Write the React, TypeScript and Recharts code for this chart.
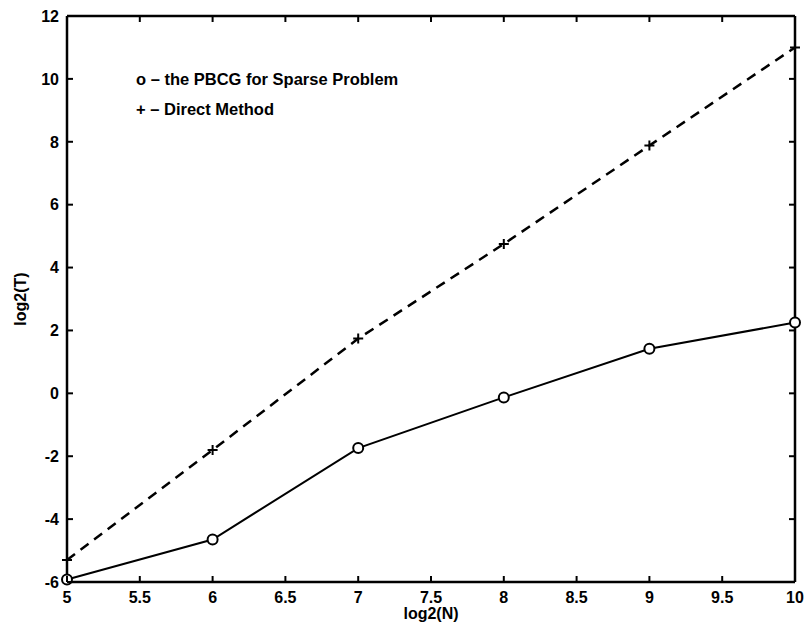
import React from 'react';
import { LineChart, Line, XAxis, YAxis, Legend } from 'recharts';

const log2N = [5, 6, 7, 8, 9, 10];
const pbcg = [-5.92, -4.65, -1.74, -0.13, 1.42, 2.25];
const direct = [-5.3, -1.8, 1.74, 4.75, 7.88, 11.0];
const xTicks = [5, 5.5, 6, 6.5, 7, 7.5, 8, 8.5, 9, 9.5, 10];
const yTicks = [-6, -4, -2, 0, 2, 4, 6, 8, 10, 12];
const legendLabels = ['o \u2013 the PBCG for Sparse Problem', '+ \u2013 Direct Method'];
const xLabel = 'log2(N)';
const yLabel = 'log2(T)';

const rows = log2N.map((n, i) => ({ n, pbcg: pbcg[i], direct: direct[i] }));

const FONT = 'Liberation Sans, Arial, Helvetica, sans-serif';
const INK = '#000';
const axisLine = { stroke: INK, strokeWidth: 2.5 };
const TICK = 6;

const LeftTick = (p: any) => (
  <g>
    <line x1={p.x} y1={p.y} x2={p.x + TICK} y2={p.y} stroke={INK} strokeWidth={2} />
    <text x={p.x - 8} y={p.y} dy="0.36em" textAnchor="end" fontFamily={FONT} fontSize={16} fontWeight="bold" fill={INK}>
      {p.payload.value}
    </text>
  </g>
);
const BottomTick = (p: any) => (
  <g>
    <line x1={p.x} y1={p.y} x2={p.x} y2={p.y - TICK} stroke={INK} strokeWidth={2} />
    <text x={p.x} y={p.y + 21} textAnchor="middle" fontFamily={FONT} fontSize={16} fontWeight="bold" fill={INK}>
      {p.payload.value}
    </text>
  </g>
);
const RightTick = (p: any) => (
  <line x1={p.x} y1={p.y} x2={p.x - TICK} y2={p.y} stroke={INK} strokeWidth={2} />
);
const TopTick = (p: any) => (
  <line x1={p.x} y1={p.y} x2={p.x} y2={p.y + TICK} stroke={INK} strokeWidth={2} />
);

const CircleDot = (p: any) => {
  if (p.cx == null || p.cy == null) return <g key={p.index} />;
  return <circle key={p.index} cx={p.cx} cy={p.cy} r={5} fill="#fff" stroke={INK} strokeWidth={2} />;
};
const PlusDot = (p: any) => {
  if (p.cx == null || p.cy == null) return <g key={p.index} />;
  const s = 5;
  return (
    <path
      key={p.index}
      d={`M${p.cx - s},${p.cy}H${p.cx + s}M${p.cx},${p.cy - s}V${p.cy + s}`}
      stroke={INK}
      strokeWidth={2}
      fill="none"
    />
  );
};

const LegendContent = () => (
  <div style={{ fontFamily: FONT, fontSize: 16.5, fontWeight: 'bold', color: INK, lineHeight: '30px', whiteSpace: 'nowrap' }}>
    {legendLabels.map((t) => (
      <div key={t}>{t}</div>
    ))}
  </div>
);

export default function App() {
  return (
    <div style={{ position: 'absolute', left: 0, top: 0, width: 809, height: 629, background: '#fff' }}>
      <LineChart
        width={809}
        height={629}
        data={rows}
        margin={{ top: -4, right: -6, bottom: 17, left: 17 }}
      >
        <XAxis
          dataKey="n"
          type="number"
          domain={[5, 10]}
          ticks={xTicks}
          interval={0}
          height={30}
          axisLine={axisLine}
          tickLine={false}
          tickSize={0}
          tickMargin={0}
          tick={BottomTick}
          label={(props: any) => {
            const vb = props.viewBox || {};
            return (
              <text
                x={vb.x + vb.width / 2}
                y={vb.y + 37}
                textAnchor="middle"
                fontFamily={FONT}
                fontSize={16}
                fontWeight="bold"
                fill={INK}
              >
                {xLabel}
              </text>
            );
          }}
        />
        <XAxis
          xAxisId="t"
          dataKey="n"
          orientation="top"
          type="number"
          domain={[5, 10]}
          ticks={xTicks}
          interval={0}
          height={20}
          axisLine={axisLine}
          tickLine={false}
          tickSize={0}
          tickMargin={0}
          tick={TopTick}
        />
        <YAxis
          type="number"
          domain={[-6, 12]}
          ticks={yTicks}
          interval={0}
          width={50}
          axisLine={axisLine}
          tickLine={false}
          tickSize={0}
          tickMargin={0}
          tick={LeftTick}
          label={(props: any) => {
            const vb = props.viewBox || {};
            const cx = vb.x + 9;
            const cy = vb.y + vb.height / 2;
            return (
              <text
                x={cx}
                y={cy}
                transform={`rotate(-90 ${cx} ${cy})`}
                textAnchor="middle"
                fontFamily={FONT}
                fontSize={16}
                fontWeight="bold"
                fill={INK}
              >
                {yLabel}
              </text>
            );
          }}
        />
        <YAxis
          yAxisId="r"
          orientation="right"
          type="number"
          domain={[-6, 12]}
          ticks={yTicks}
          interval={0}
          width={20}
          axisLine={axisLine}
          tickLine={false}
          tickSize={0}
          tickMargin={0}
          tick={RightTick}
        />
        <Legend
          layout="vertical"
          align="center"
          verticalAlign="middle"
          wrapperStyle={{ left: 136, top: 64, width: 340 }}
          content={<LegendContent />}
        />
        <Line
          xAxisId="t"
          yAxisId="r"
          dataKey="pbcg"
          stroke="none"
          dot={false}
          activeDot={false}
          legendType="none"
          isAnimationActive={false}
        />
        <Line
          dataKey="direct"
          stroke={INK}
          strokeWidth={2.5}
          strokeDasharray="10 7"
          dot={PlusDot}
          isAnimationActive={false}
        />
        <Line
          dataKey="pbcg"
          stroke={INK}
          strokeWidth={2}
          dot={CircleDot}
          isAnimationActive={false}
        />
      </LineChart>
    </div>
  );
}
